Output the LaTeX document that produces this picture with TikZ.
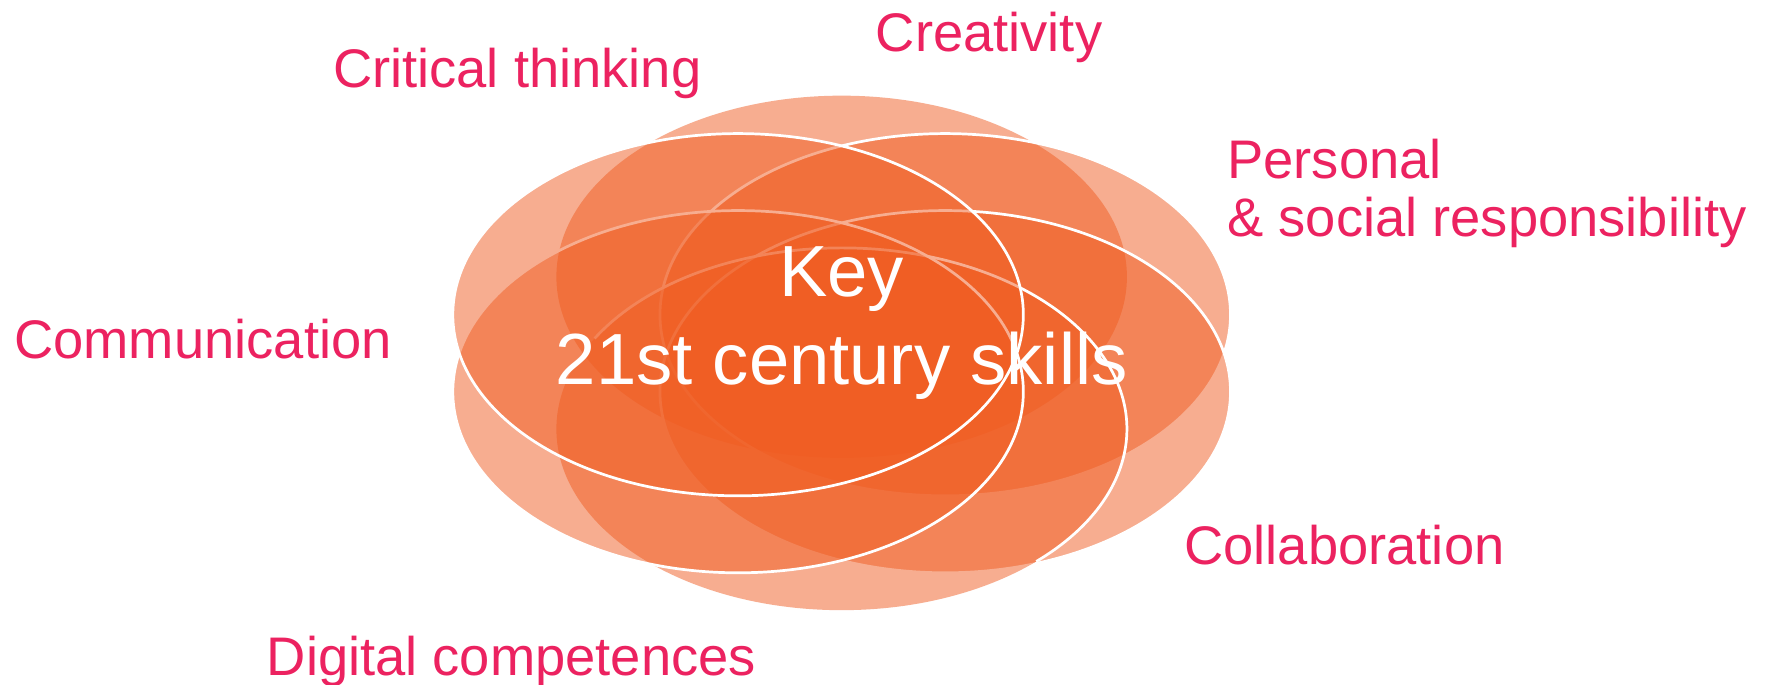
\documentclass[tikz,border=0pt]{standalone}
\usepackage{fontspec}
\setmainfont{Liberation Sans}
\definecolor{petal}{RGB}{240,93,34}
\definecolor{skill}{RGB}{236,34,96}
\begin{document}
\begin{tikzpicture}[x=1pt,y=-1pt,
  petalfill/.style={fill=petal, fill opacity=0.5},
  petalrim/.style={draw=white, line width=2.4pt},
  petalsize/.style={x radius=252pt, y radius=160pt},
  skilllabel/.style={text=skill, font=\fontsize{48}{51.5}\selectfont,
    inner sep=0pt, anchor=base west, align=left},
  corelabel/.style={text=white, font=\fontsize{64}{78}\selectfont,
    inner sep=0pt, anchor=base, align=center}]
\useasboundingbox (0,0) rectangle (1568,605);
\fill[white] (0,0) rectangle (1568,605);

% centres of the six petals, on a flattened hexagon
\coordinate (T)  at (743.5,244.5);
\coordinate (UR) at (835,278);
\coordinate (LR) at (835,346);
\coordinate (B)  at (743.5,379);
\coordinate (LL) at (652,346);
\coordinate (UL) at (652,278);

% petals, back to front
\path[petalfill] (T) ellipse [petalsize];
\path[petalfill, petalrim] (UR) ellipse [petalsize];
\path[petalfill, petalrim] (LR) ellipse [petalsize];
\path[petalfill] (B) ellipse [petalsize];
\draw[petalrim] (B) ++(150:252pt and 160pt)
  arc [start angle=150, end angle=-47, petalsize];
\path[petalfill, petalrim] (LL) ellipse [petalsize];
\path[petalfill, petalrim] (UL) ellipse [petalsize];

% centre title (anchored on the baseline of its last line)
\node[corelabel] (core) at (743.5,340) {Key\\21st century skills};

% skill labels around the flower
\node[skilllabel] (creativity) at (773.5,45.5) {Creativity};
\node[skilllabel] (critical) at (294,77) {Critical thinking};
\node[skilllabel] (personal) at (1084,209) {Personal\\\& social responsibility};
\node[skilllabel] (communication) at (12.4,316.5) {Communication};
\node[skilllabel] (collaboration) at (1046,499) {Collaboration};
\node[skilllabel] (digital) at (235.5,596.3) {Digital competences};
\end{tikzpicture}
\end{document}
